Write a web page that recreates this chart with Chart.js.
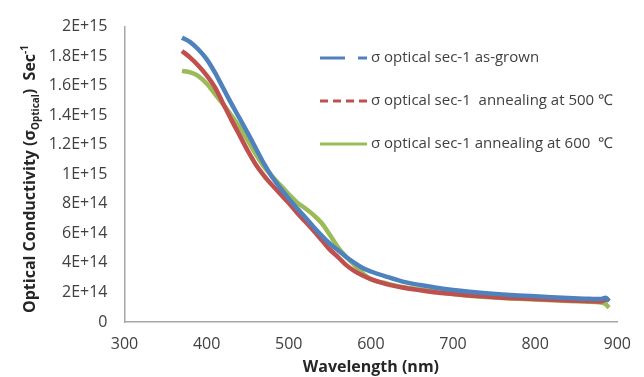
<!DOCTYPE html>
<html>
<head>
<meta charset="utf-8">
<script src="https://cdn.jsdelivr.net/npm/chart.js@4"></script>
<style>
html,body{margin:0;padding:0;background:#fff;}
</style>
</head>
<body>
<canvas id="optical-graph" width="644" height="377"></canvas>
<script>
// wavelength (nm) shared by the three curves
const wavelengths = [370,380,390,400,410,420,430,440,450,460,470,480,490,500,510,520,530,540,550,560,570,580,590,600,620,640,660,680,700,720,740,760,780,800,820,840,860,880,886,890];

// optical conductivity (sec-1)
const asGrown = [1.925e15,1.895e15,1.845e15,1.78e15,1.69e15,1.585e15,1.48e15,1.38e15,1.28e15,1.175e15,1.07e15,0.98e15,0.905e15,0.835e15,0.77e15,0.71e15,0.645e15,0.585e15,0.53e15,0.485e15,0.44e15,0.40e15,0.365e15,0.342e15,0.305e15,0.272e15,0.25e15,0.232e15,0.217e15,0.205e15,0.195e15,0.187e15,0.18e15,0.174e15,0.168e15,0.162e15,0.158e15,0.155e15,0.165e15,0.14e15];
const anneal500 = [1.835e15,1.79e15,1.735e15,1.67e15,1.59e15,1.48e15,1.37e15,1.265e15,1.16e15,1.065e15,0.99e15,0.925e15,0.865e15,0.805e15,0.74e15,0.68e15,0.62e15,0.555e15,0.49e15,0.44e15,0.385e15,0.345e15,0.315e15,0.29e15,0.255e15,0.232e15,0.215e15,0.20e15,0.19e15,0.18e15,0.172e15,0.165e15,0.16e15,0.155e15,0.15e15,0.145e15,0.142e15,0.138e15,0.15e15,0.15e15];
const anneal600 = [1.70e15,1.69e15,1.665e15,1.615e15,1.545e15,1.475e15,1.40e15,1.32e15,1.23e15,1.135e15,1.05e15,0.985e15,0.925e15,0.865e15,0.81e15,0.77e15,0.725e15,0.67e15,0.59e15,0.505e15,0.44e15,0.385e15,0.33e15,0.29e15,0.26e15,0.235e15,0.22e15,0.205e15,0.19e15,0.178e15,0.17e15,0.163e15,0.157e15,0.152e15,0.147e15,0.143e15,0.138e15,0.132e15,0.12e15,0.097e15];

const seriesLabels = [
  "σ optical sec-1 as-grown",
  "σ optical sec-1  annealing at 500 ℃",
  "σ optical sec-1 annealing at 600  ℃"
];
const seriesColors = ["#4f81bd", "#c0504d", "#9bbb59"];
const legendDash = [[25,13,9], [8,5], []];

const FONT = "'Open Sans', 'Liberation Sans', sans-serif";

function toPoints(vals){
  return vals.map((v, i) => ({x: wavelengths[i], y: v}));
}

function sciLabel(v){
  if (v === 0) return "0";
  const e = Math.floor(Math.log10(v) + 1e-9);
  const m = parseFloat((v / Math.pow(10, e)).toFixed(2));
  return m + "E+" + e;
}

// legend drawn inside the plot, stacked on the right
const sideLegend = {
  id: "sideLegend",
  afterDraw(chart){
    const ctx = chart.ctx;
    ctx.save();
    chart.data.datasets.forEach((ds, i) => {
      const y = 58 + i * 43;
      ctx.beginPath();
      ctx.setLineDash(legendDash[i]);
      ctx.strokeStyle = ds.borderColor;
      ctx.lineWidth = 3;
      ctx.moveTo(320, y);
      ctx.lineTo(367, y);
      ctx.stroke();
      ctx.setLineDash([]);
      ctx.fillStyle = "#404040";
      ctx.font = "15px " + FONT;
      ctx.textBaseline = "middle";
      ctx.fillText(ds.label, 371, y);
    });
    ctx.restore();
  }
};

// y axis title with subscript / superscript
const yTitle = {
  id: "yTitle",
  afterDraw(chart){
    const ctx = chart.ctx;
    const parts = [
      {t: "Optical Conductivity (σ", size: 16, dy: 0},
      {t: "Optical", size: 10, dy: 4},
      {t: ")  Sec", size: 16, dy: 0},
      {t: "-1", size: 10, dy: -7}
    ];
    ctx.save();
    ctx.translate(29, 179);
    ctx.rotate(-Math.PI / 2);
    ctx.fillStyle = "#262626";
    ctx.textBaseline = "alphabetic";
    let total = 0;
    parts.forEach(p => {
      ctx.font = "bold " + p.size + "px " + FONT;
      p.w = ctx.measureText(p.t).width;
      total += p.w;
    });
    let x = -total / 2;
    parts.forEach(p => {
      ctx.font = "bold " + p.size + "px " + FONT;
      ctx.fillText(p.t, x, 6 + p.dy);
      x += p.w;
    });
    ctx.restore();
  }
};

const ctx = document.getElementById("optical-graph").getContext("2d");
new Chart(ctx, {
  type: "line",
  data: {
    datasets: [asGrown, anneal500, anneal600].map((vals, i) => ({
      label: seriesLabels[i],
      data: toPoints(vals),
      borderColor: seriesColors[i],
      backgroundColor: seriesColors[i],
      borderWidth: 4.5,
      pointRadius: 0,
      tension: 0.4,
      cubicInterpolationMode: "monotone",
      fill: false
    }))
  },
  options: {
    responsive: false,
    animation: false,
    devicePixelRatio: 1,
    layout: {padding: {top: 20, right: 21, bottom: 0, left: 0}},
    plugins: {
      legend: {display: false},
      tooltip: {enabled: false}
    },
    scales: {
      x: {
        type: "linear",
        min: 300,
        max: 900,
        afterFit(scale){ scale.height = 55; },
        grid: {display: false, drawTicks: false},
        border: {display: true, color: "#a6a6a6", width: 1.5},
        ticks: {stepSize: 100, padding: 13, color: "#404040", font: {family: FONT, size: 16}},
        title: {display: true, text: "Wavelength (nm)", color: "#262626", padding: {top: 0, bottom: 2},
                font: {family: FONT, size: 16, weight: "bold", lineHeight: 1}}
      },
      y: {
        min: 0,
        max: 2e15,
        afterFit(scale){ scale.width = 124.5; },
        grid: {display: false, drawTicks: false},
        border: {display: true, color: "#a6a6a6", width: 1.5},
        ticks: {stepSize: 2e14, padding: 17, color: "#404040", font: {family: FONT, size: 16},
                callback: (v) => sciLabel(v)}
      }
    }
  },
  plugins: [sideLegend, yTitle]
});
</script>
</body>
</html>
